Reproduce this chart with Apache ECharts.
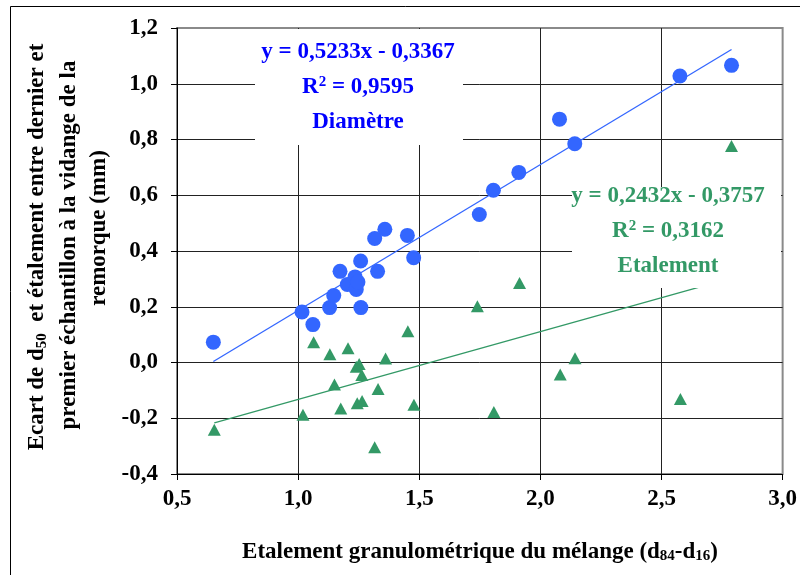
<!DOCTYPE html>
<html>
<head>
<meta charset="utf-8">
<script src="https://cdn.jsdelivr.net/npm/echarts@6/dist/echarts.min.js"></script>
<style>
  html, body { margin: 0; padding: 0; background: #fff; }
  #chart { width: 800px; height: 575px; }
</style>
</head>
<body>
<div id="chart"></div>
<script>
// Spread of the mixture (d84-d16) for each test
const diametreX = [0.650, 1.016, 1.061, 1.130, 1.147, 1.173, 1.203, 1.235, 1.240, 1.247, 1.258, 1.259,
                   1.316, 1.328, 1.358, 1.451, 1.477, 1.748, 1.806, 1.911, 2.079, 2.142, 2.576, 2.789];
// Difference of d50 between last and first sample (mm)
const diametreY = [0.073, 0.181, 0.136, 0.197, 0.240, 0.327, 0.280, 0.307, 0.262, 0.289, 0.364, 0.197,
                   0.445, 0.327, 0.478, 0.456, 0.376, 0.531, 0.618, 0.682, 0.873, 0.785, 1.028, 1.066];

const etalementX = [0.654, 1.020, 1.064, 1.131, 1.150, 1.176, 1.206, 1.240, 1.244, 1.252, 1.263, 1.264,
                    1.316, 1.330, 1.361, 1.453, 1.478, 1.740, 1.808, 1.914, 2.082, 2.143, 2.578, 2.789];
// Difference of spread between last and first sample (mm)
const etalementY = [-0.241, -0.187, 0.073, 0.030, -0.079, -0.165, 0.051, -0.015, -0.146, -0.005, -0.045, -0.138,
                    -0.304, -0.095, 0.014, 0.112, -0.152, 0.202, -0.178, 0.285, -0.043, 0.015, -0.131, 0.777];

// Linear fits (slope, intercept, R²)
const fitDiametre = { a: 0.5233, b: -0.3367, r2: '0,9595' };
const fitEtalement = { a: 0.2432, b: -0.3757, r2: '0,3162' };

const xTicks = { min: 0.5, max: 3.0, step: 0.5 };
const yTicks = { min: -0.4, max: 1.2, step: 0.2 };

const BLUE = '#3366FF';
const GREEN = '#339966';
const SERIF = '"Liberation Serif", "Times New Roman", serif';
const FS = 23;       // main font size
const FS_SMALL = 15; // sub / superscript size

function zip(xs, ys) { return xs.map((x, i) => [x, ys[i]]); }
function fitLine(xs, fit) {
  const lo = Math.min(...xs), hi = Math.max(...xs);
  return [[lo, fit.a * lo + fit.b], [hi, fit.a * hi + fit.b]];
}
function fmt(v) { return v.toFixed(1).replace('.', ','); }
function fmtCoef(v) { return Math.abs(v).toFixed(4).replace('.', ','); }
function eqText(fit) {
  return 'y = ' + fmtCoef(fit.a) + 'x ' + (fit.b < 0 ? '- ' : '+ ') + fmtCoef(fit.b);
}

const chart = echarts.init(document.getElementById('chart'), null, { renderer: 'canvas' });

function annotation(cx, top, color, fit, name) {
  const base = { fontFamily: SERIF, fontWeight: 'bold', fontSize: FS, fill: color, align: 'center', verticalAlign: 'middle' };
  const supRich = {
    sup: { fontFamily: SERIF, fontWeight: 'bold', fontSize: FS_SMALL, lineHeight: 8, verticalAlign: 'top', fill: color },
    n: { fontFamily: SERIF, fontWeight: 'bold', fontSize: FS, lineHeight: 24, fill: color }
  };
  return [
    { type: 'text', x: cx, y: top, z: 101, style: Object.assign({}, base, { text: eqText(fit) }) },
    { type: 'text', x: cx, y: top + 35, z: 101, style: Object.assign({}, base, { text: '{n|R}{sup|2}{n| = ' + fit.r2 + '}', rich: supRich }) },
    { type: 'text', x: cx, y: top + 70, z: 101, style: Object.assign({}, base, { text: name }) }
  ];
}

// one rotated line of the vertical axis title
function yTitleLine(x, y, text) {
  return {
    type: 'text', x: x, y: y, rotation: Math.PI / 2, z: 101,
    style: {
      text: text, align: 'center', verticalAlign: 'middle',
      rich: {
        n: { fontFamily: SERIF, fontWeight: 'bold', fontSize: FS, lineHeight: 26, fill: '#000' },
        sub: { fontFamily: SERIF, fontWeight: 'bold', fontSize: FS_SMALL, lineHeight: 10, verticalAlign: 'bottom', fill: '#000' }
      }
    }
  };
}

const option = {
  backgroundColor: '#ffffff',
  animation: false,
  grid: {
    left: 177, right: 16, top: 28, bottom: 101,
    show: true, borderColor: '#8a8a8a', borderWidth: 2, backgroundColor: 'transparent'
  },
  xAxis: {
    type: 'value', min: xTicks.min, max: xTicks.max, interval: xTicks.step,
    axisLine: { show: true, onZero: false, lineStyle: { color: '#000', width: 1 } },
    axisTick: { show: true, inside: false, length: 6, lineStyle: { color: '#000' } },
    axisLabel: { margin: 14, formatter: fmt, fontFamily: SERIF, fontWeight: 'bold', fontSize: FS, color: '#000' },
    splitLine: { show: true, showMaxLine: false, lineStyle: { color: '#222', width: 1 } }
  },
  yAxis: {
    type: 'value', min: yTicks.min, max: yTicks.max, interval: yTicks.step,
    axisLine: { show: true, onZero: false, lineStyle: { color: '#000', width: 1 } },
    axisTick: { show: true, inside: false, length: 6, lineStyle: { color: '#000' } },
    axisLabel: { margin: 19, formatter: fmt, fontFamily: SERIF, fontWeight: 'bold', fontSize: FS, color: '#000' },
    splitLine: { show: true, showMaxLine: false, lineStyle: { color: '#222', width: 1 } }
  },
  series: [
    {
      name: 'Diamètre', type: 'scatter', data: zip(diametreX, diametreY),
      symbol: 'circle', symbolSize: 15, itemStyle: { color: BLUE, opacity: 1 }, z: 5
    },
    {
      name: 'Etalement', type: 'scatter', data: zip(etalementX, etalementY),
      symbol: 'triangle', symbolSize: [13, 12], itemStyle: { color: GREEN, opacity: 1 }, z: 5
    },
    {
      name: 'Tendance Diamètre', type: 'line', data: fitLine(diametreX, fitDiametre),
      symbol: 'none', lineStyle: { color: BLUE, width: 1.3 }, z: 4
    },
    {
      name: 'Tendance Etalement', type: 'line', data: fitLine(etalementX, fitEtalement),
      symbol: 'none', lineStyle: { color: GREEN, width: 1.3 }, z: 4
    }
  ],
  graphic: [
    // outer frame
    { type: 'rect', shape: { x: 10.5, y: 6.5, width: 800, height: 600 }, style: { fill: 'none', stroke: '#000', lineWidth: 1 }, z: 0, silent: true },
    // white label boxes over the grid
    { type: 'rect', shape: { x: 255, y: 29, width: 208, height: 116 }, style: { fill: '#fff' }, z: 100 },
    { type: 'rect', shape: { x: 572, y: 187, width: 209, height: 101 }, style: { fill: '#fff' }, z: 100 },
    ...annotation(358, 52, '#0000FF', fitDiametre, 'Diamètre'),
    ...annotation(668, 196, GREEN, fitEtalement, 'Etalement'),
    // x axis title
    {
      type: 'text', x: 480, y: 552, z: 101,
      style: {
        text: '{n|Etalement granulométrique du mélange (d}{sub|84}{n|-d}{sub|16}{n|)}',
        align: 'center', verticalAlign: 'middle',
        rich: {
          n: { fontFamily: SERIF, fontWeight: 'bold', fontSize: FS, lineHeight: 24, fill: '#000' },
          sub: { fontFamily: SERIF, fontWeight: 'bold', fontSize: FS_SMALL, lineHeight: 8, verticalAlign: 'bottom', fill: '#000' }
        }
      }
    },
    // y axis title, three rotated lines
    yTitleLine(37, 247, '{n|Ecart de d}{sub|50}{n|  et étalement entre dernier et}'),
    yTitleLine(69, 245, '{n|premier échantillon à la vidange de la}'),
    yTitleLine(99, 228, '{n|remorque (mm)}')
  ]
};

chart.setOption(option);
</script>
</body>
</html>
